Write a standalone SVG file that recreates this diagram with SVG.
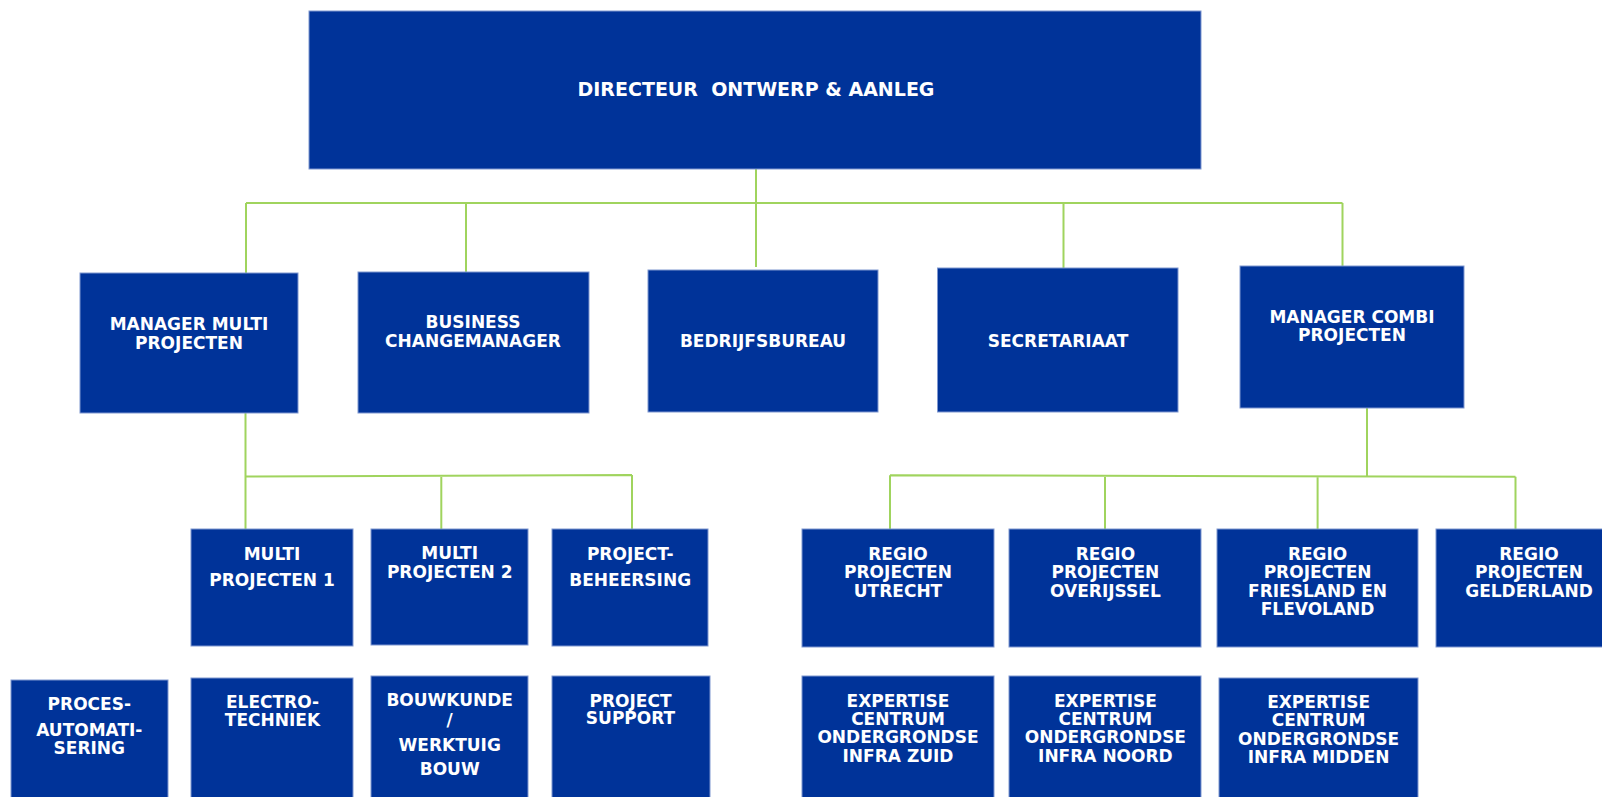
<svg xmlns="http://www.w3.org/2000/svg" width="1602" height="797" viewBox="0 0 1602 797">
<style>
.box{fill:#003399;stroke:#7f97d0;stroke-width:1}
.t{fill:#ffffff;font-family:"DejaVu Sans","Liberation Sans",sans-serif;font-weight:bold;font-size:17px;text-anchor:middle}
.title{font-size:19px;white-space:pre}
.c{stroke:#a0d45e;stroke-width:2;fill:none}
</style>
<rect width="1602" height="797" fill="#ffffff"/>
<g id="connectors">
<path class="c" d="M756 169 V203 M246 203 H1342.5 M246 203 V273 M466 203 V272 M756 203 V267 M1063.5 203 V268 M1342.5 203 V266"/>
<path class="c" d="M245.5 413 V476.5 L632 475 M245.5 476.5 V529 M441.3 476 V529 M632 475 V529"/>
<path class="c" d="M1367 408 V475.8 M890 475.3 L1515.5 476.7 M890 475.3 V529 M1105 475.7 V529 M1317.6 476.2 V529 M1515.5 476.7 V529"/>
</g>
<g id="directeur"><rect class="box" x="309" y="11" width="892" height="158"/><text class="t title" x="756" y="96" xml:space="preserve">DIRECTEUR  ONTWERP &amp; AANLEG</text></g>
<g id="manager-multi"><rect class="box" x="80" y="273" width="218" height="140"/><text class="t" x="189" y="330">MANAGER MULTI</text><text class="t" x="189" y="349.3">PROJECTEN</text></g>
<g id="business"><rect class="box" x="358" y="272" width="231" height="141"/><text class="t" x="473" y="328.3">BUSINESS</text><text class="t" x="473" y="346.7">CHANGEMANAGER</text></g>
<g id="bedrijfsbureau"><rect class="box" x="648" y="270" width="230" height="142"/><text class="t" x="763" y="347">BEDRIJFSBUREAU</text></g>
<g id="secretariaat"><rect class="box" x="937.5" y="268" width="240.5" height="144"/><text class="t" x="1058" y="346.7">SECRETARIAAT</text></g>
<g id="manager-combi"><rect class="box" x="1240" y="266" width="224" height="142"/><text class="t" x="1352" y="322.7">MANAGER COMBI</text><text class="t" x="1352" y="340.7">PROJECTEN</text></g>
<g id="multi1"><rect class="box" x="191" y="529" width="162" height="117"/><text class="t" x="272" y="560">MULTI</text><text class="t" x="272" y="586">PROJECTEN 1</text></g>
<g id="multi2"><rect class="box" x="371" y="529" width="157" height="116"/><text class="t" x="449.7" y="559.3">MULTI</text><text class="t" x="449.7" y="577.7">PROJECTEN 2</text></g>
<g id="beheersing"><rect class="box" x="552" y="529" width="156" height="117"/><text class="t" x="630.2" y="560">PROJECT-</text><text class="t" x="630.2" y="586">BEHEERSING</text></g>
<g id="utrecht"><rect class="box" x="802" y="529" width="192" height="118"/><text class="t" x="898" y="560">REGIO</text><text class="t" x="898" y="578.3">PROJECTEN</text><text class="t" x="898" y="596.7">UTRECHT</text></g>
<g id="overijssel"><rect class="box" x="1009" y="529" width="192" height="118"/><text class="t" x="1105.4" y="560">REGIO</text><text class="t" x="1105.4" y="578.3">PROJECTEN</text><text class="t" x="1105.4" y="596.7">OVERIJSSEL</text></g>
<g id="friesland"><rect class="box" x="1217" y="529" width="201" height="118"/><text class="t" x="1317.6" y="560">REGIO</text><text class="t" x="1317.6" y="578.3">PROJECTEN</text><text class="t" x="1317.6" y="596.7">FRIESLAND EN</text><text class="t" x="1317.6" y="615">FLEVOLAND</text></g>
<g id="gelderland"><rect class="box" x="1436" y="529" width="190" height="118"/><text class="t" x="1529" y="560">REGIO</text><text class="t" x="1529" y="578.3">PROJECTEN</text><text class="t" x="1529" y="596.7">GELDERLAND</text></g>
<g id="procesautomatisering"><rect class="box" x="11" y="680" width="157" height="130"/><text class="t" x="89.3" y="710">PROCES-</text><text class="t" x="89.3" y="736">AUTOMATI-</text><text class="t" x="89.3" y="754">SERING</text></g>
<g id="electrotechniek"><rect class="box" x="191" y="678" width="162" height="130"/><text class="t" x="272.5" y="707.7">ELECTRO-</text><text class="t" x="272.5" y="726">TECHNIEK</text></g>
<g id="bouwkunde"><rect class="box" x="371" y="676" width="157" height="130"/><text class="t" x="449.7" y="706">BOUWKUNDE</text><text class="t" x="449.7" y="726">/</text><text class="t" x="449.7" y="750.7">WERKTUIG</text><text class="t" x="449.7" y="775">BOUW</text></g>
<g id="projectsupport"><rect class="box" x="552" y="676" width="158" height="130"/><text class="t" x="630.5" y="706.7">PROJECT</text><text class="t" x="630.5" y="724">SUPPORT</text></g>
<g id="expertise-zuid"><rect class="box" x="802" y="676" width="192" height="130"/><text class="t" x="898" y="706.7">EXPERTISE</text><text class="t" x="898" y="725">CENTRUM</text><text class="t" x="898" y="743.3">ONDERGRONDSE</text><text class="t" x="898" y="762.3">INFRA ZUID</text></g>
<g id="expertise-noord"><rect class="box" x="1009" y="676" width="192" height="130"/><text class="t" x="1105.4" y="706.7">EXPERTISE</text><text class="t" x="1105.4" y="725">CENTRUM</text><text class="t" x="1105.4" y="743.3">ONDERGRONDSE</text><text class="t" x="1105.4" y="762.3">INFRA NOORD</text></g>
<g id="expertise-midden"><rect class="box" x="1219" y="678" width="199" height="130"/><text class="t" x="1318.6" y="708.3">EXPERTISE</text><text class="t" x="1318.6" y="726">CENTRUM</text><text class="t" x="1318.6" y="744.7">ONDERGRONDSE</text><text class="t" x="1318.6" y="763.3">INFRA MIDDEN</text></g>
</svg>
